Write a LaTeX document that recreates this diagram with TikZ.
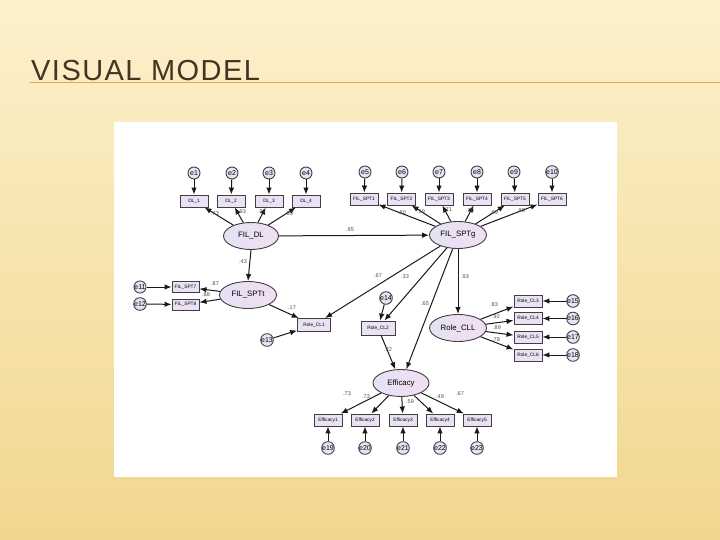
\documentclass[tikz,border=0pt]{standalone}
\usepackage{fontspec}
\setmainfont{Liberation Sans}
\usetikzlibrary{shapes.geometric,arrows.meta}
\definecolor{lav}{RGB}{234,226,244}
\definecolor{latL}{RGB}{228,226,244}
\definecolor{latR}{RGB}{242,222,242}
\definecolor{bgT}{RGB}{252,241,204}
\definecolor{bgB}{RGB}{241,214,142}
\definecolor{titlebrown}{RGB}{68,52,36}
\definecolor{rule}{RGB}{232,166,64}
\begin{document}
\begin{tikzpicture}[x=1pt,y=-1pt,
 obs/.style={rectangle,draw=black!75,line width=0.9pt,fill=lav,minimum width=28pt,minimum height=12pt,inner sep=0pt,font=\fontsize{4.8}{5}\selectfont},
 lat/.style={ellipse,draw=black!75,line width=0.9pt,left color=latL,right color=latR,minimum width=57pt,minimum height=27pt,inner sep=0pt,font=\fontsize{7.8}{8}\selectfont},
 err/.style={circle,draw=black!75,line width=0.9pt,fill=lav,minimum size=12pt,inner sep=0pt,font=\fontsize{7}{7}\selectfont},
 arr/.style={-{Latex[length=7pt,width=5.5pt]},line width=1pt,draw=black!90},
 lab/.style={font=\fontsize{5.5}{6}\selectfont,text=black!70,inner sep=0pt}]
\useasboundingbox (0,0) rectangle (720,540);
\shade[top color=bgT,bottom color=bgB] (0,0) rectangle (720,540);
\fill[white] (114,122) rectangle (617,477);
% title
\coordinate (ruleA) at (30,82.5);
\coordinate (ruleB) at (720,82.5);
\draw[rule,line width=1.8pt] (ruleA) -- (ruleB);
\node[anchor=base west,inner sep=0pt,text=titlebrown,font=\fontsize{29}{30}\selectfont\addfontfeature{LetterSpace=5}] (title) at (31,80.5) {VISUAL MODEL};

% latent variables
\node[lat,minimum width=55pt] (fdl) at (251,236) {FIL\_DL};
\node[lat] (fsg) at (458,235) {FIL\_SPTg};
\node[lat] (fst) at (248,295) {FIL\_SPTt};
\node[lat] (rcl) at (458,328) {Role\_CLL};
\node[lat,minimum width=56pt] (eff) at (401,383) {Efficacy};

% DL indicators
\node[obs] (d1) at (194,201) {DL\_1};
\node[obs] (d2) at (231,201) {DL\_2};
\node[obs] (d3) at (269,201) {DL\_3};
\node[obs] (d4) at (306,201) {DL\_4};
\node[err] (e1) at (194,173) {e1};
\node[err] (e2) at (232,173) {e2};
\node[err] (e3) at (269,173) {e3};
\node[err] (e4) at (306,173) {e4};

% SPTg indicators
\node[obs] (s1) at (364,199) {FIL\_SPT1};
\node[obs] (s2) at (401.5,199) {FIL\_SPT2};
\node[obs] (s3) at (439,199) {FIL\_SPT3};
\node[obs] (s4) at (477,199) {FIL\_SPT4};
\node[obs] (s5) at (515,199) {FIL\_SPT5};
\node[obs] (s6) at (552,199) {FIL\_SPT6};
\node[err] (e5) at (365,172) {e5};
\node[err] (e6) at (402,172) {e6};
\node[err] (e7) at (439,172) {e7};
\node[err] (e8) at (477,172) {e8};
\node[err] (e9) at (514,172) {e9};
\node[err] (e10) at (552,172) {e10};

% SPTt indicators
\node[obs,minimum width=27pt,minimum height=11pt] (s7) at (185.5,287) {FIL\_SPT7};
\node[obs,minimum width=27pt,minimum height=11pt] (s8) at (185.5,304.5) {FIL\_SPT8};
\node[err] (e11) at (140,287) {e11};
\node[err] (e12) at (140,304) {e12};

% Role_CL1, Role_CL2
\node[obs,minimum width=33pt,minimum height=13pt] (r1) at (314,325) {Role\_CL1};
\node[err] (e13) at (267,340) {e13};
\node[obs,minimum width=34pt,minimum height=14pt] (r2) at (378,328) {Role\_CL2};
\node[err] (e14) at (386,298) {e14};

% Role_CLL indicators
\node[obs] (r3) at (528,301) {Role\_CL3};
\node[obs] (r4) at (528,318.5) {Role\_CL4};
\node[obs] (r5) at (528,337) {Role\_CL5};
\node[obs] (r6) at (528,355) {Role\_CL6};
\node[err] (e15) at (573,301) {e15};
\node[err] (e16) at (573,318.5) {e16};
\node[err] (e17) at (573,337) {e17};
\node[err] (e18) at (573,355) {e18};

% Efficacy indicators
\node[obs] (f1) at (328,420) {Efficacy1};
\node[obs] (f2) at (365,420) {Efficacy2};
\node[obs] (f3) at (403,420) {Efficacy3};
\node[obs] (f4) at (440,420) {Efficacy4};
\node[obs] (f5) at (477,420) {Efficacy5};
\node[err] (e19) at (328,448) {e19};
\node[err] (e20) at (365,448) {e20};
\node[err] (e21) at (403,448) {e21};
\node[err] (e22) at (440,448) {e22};
\node[err] (e23) at (477,448) {e23};

% error arrows
\foreach \e/\o in {e1/d1,e2/d2,e3/d3,e4/d4,e5/s1,e6/s2,e7/s3,e8/s4,e9/s5,e10/s6,e11/s7,e12/s8,e13/r1,e14/r2,e15/r3,e16/r4,e17/r5,e18/r6,e19/f1,e20/f2,e21/f3,e22/f4,e23/f5}
  \draw[arr] (\e) -- (\o);

% loadings
\foreach \o in {d1,d2,d3,d4} \draw[arr] (fdl) -- (\o);
\foreach \o in {s1,s2,s3,s4,s5,s6} \draw[arr] (fsg) -- (\o);
\foreach \o in {s7,s8} \draw[arr] (fst) -- (\o);
\foreach \o in {r3,r4,r5,r6} \draw[arr] (rcl) -- (\o);
\foreach \o in {f1,f2,f3,f4,f5} \draw[arr] (eff) -- (\o);

% structural paths
\draw[arr] (fdl) -- (fsg);
\draw[arr] (fdl.south) -- (fst.north);
\draw[arr] (fst) -- (r1);
\draw[arr] (fsg) -- (r1);
\draw[arr] (fsg) -- (r2);
\draw[arr] (fsg) -- (eff);
\draw[arr] (fsg.south) -- (rcl.north);
\draw[arr] (r2) -- (eff);

% labels
\node[lab] (l1) at (215,214) {.73};
\node[lab] (l2) at (242,212) {.93};
\node[lab] (l3) at (262,212) {.91};
\node[lab] (l4) at (289,214) {.90};
\node[lab] (l5) at (402,213) {.80};
\node[lab] (l6) at (421,212) {.59};
\node[lab] (l7) at (448,210) {.71};
\node[lab] (l8) at (470,211) {.79};
\node[lab] (l9) at (494,213) {.69};
\node[lab] (l10) at (521,211) {.85};
\node[lab] (l11) at (350,230) {.95};
\node[lab] (l12) at (243,262) {.43};
\node[lab] (l13) at (215,284) {.87};
\node[lab] (l14) at (206,295) {.88};
\node[lab] (l15) at (292,308) {.17};
\node[lab] (l16) at (378,276) {.67};
\node[lab] (l17) at (405,277) {.33};
\node[lab] (l18) at (465,277) {.93};
\node[lab] (l19) at (425,304) {.65};
\node[lab] (l20) at (494,305) {.83};
\node[lab] (l21) at (496,317) {.92};
\node[lab] (l22) at (497,328) {.89};
\node[lab] (l23) at (496,340) {.78};
\node[lab] (l24) at (388,350) {.32};
\node[lab] (l25) at (347,394) {.73};
\node[lab] (l26) at (366,397) {.73};
\node[lab] (l27) at (410,402) {.59};
\node[lab] (l28) at (440,397) {.49};
\node[lab] (l29) at (460,394) {.67};
\end{tikzpicture}
\end{document}
